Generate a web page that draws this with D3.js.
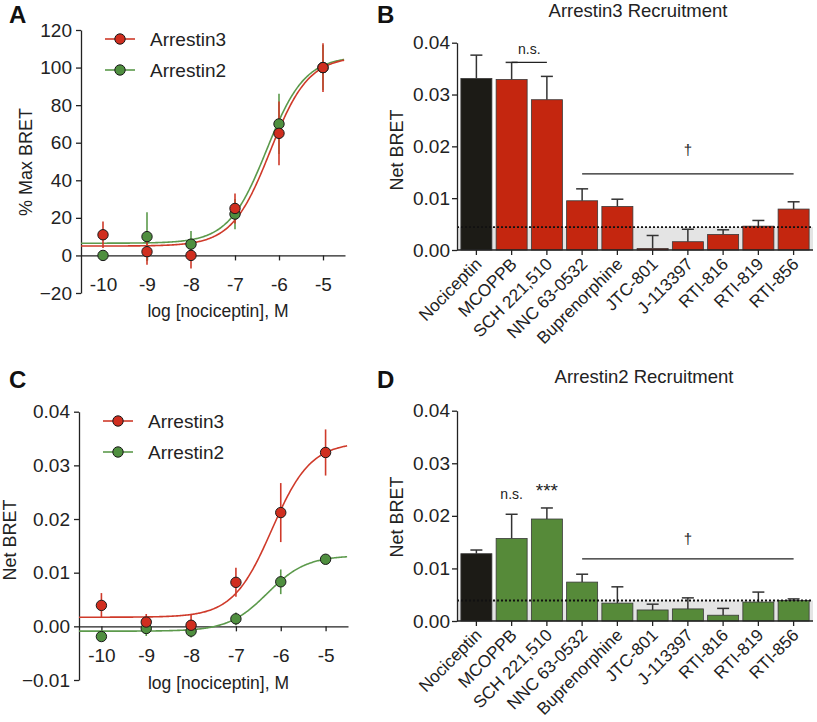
<!DOCTYPE html>
<html>
<head>
<meta charset="utf-8">
<script src="https://cdn.jsdelivr.net/npm/d3@7"></script>
<style>
  body { margin: 0; background: #fff; }
  svg { font-family: "Liberation Sans", Arial, sans-serif; }
</style>
</head>
<body>
<svg id="fig" width="817" height="722"></svg>
<script>
// dose axis (log M)
const logDose = [-10, -9, -8, -7, -6, -5];

// panel A - % max BRET
const aArr3 = [11, 2, 0, 25, 65, 100];
const aArr3Err = [7, 7, 7, 8, 17, 13];
const aArr2 = [0, 10, 6, 22, 70, 100];
const aArr2Err = [1, 13, 7, 8, 16, 12];
// fitted curve: bottom, top, logEC50
const aFit3 = [5, 106, -6.2];
const aFit2 = [6.5, 106, -6.28];

// panel C - net BRET
const cArr3 = [0.0039, 0.0008, 0.0002, 0.0082, 0.0212, 0.0324];
const cArr3Err = [0.0023, 0.0015, 0.002, 0.0027, 0.0055, 0.0043];
const cArr2 = [-0.0019, -0.0004, -0.0009, 0.0014, 0.0083, 0.0125];
const cArr2Err = [0.0005, 0.0014, 0.0012, 0.0012, 0.0023, 0.0006];
const cFit3 = [0.0017, 0.0343, -6.2];
const cFit2 = [-0.0009, 0.0132, -6.3];

// panels B and D - bars
const drugs = ["Nociceptin", "MCOPPB", "SCH 221,510", "NNC 63-0532", "Buprenorphine",
  "JTC-801", "J-113397", "RTI-816", "RTI-819", "RTI-856"];
const arr3Net = [0.0331, 0.0329, 0.0290, 0.0095, 0.0084, 0.0003, 0.0016, 0.0030, 0.0046, 0.0079];
const arr3Sem = [0.0045, 0.0033, 0.0045, 0.0023, 0.0014, 0.0025, 0.0024, 0.0009, 0.0011, 0.0014];
const arr3Basal = 0.0044;
const arr2Net = [0.0128, 0.0157, 0.0194, 0.0074, 0.0034, 0.0021, 0.0023, 0.0011, 0.0036, 0.0039];
const arr2Sem = [0.0007, 0.0046, 0.0021, 0.0015, 0.0031, 0.0011, 0.0021, 0.0013, 0.0019, 0.0003];
const arr2Basal = 0.0039;

const red = "#d02e1f", green = "#4f8f3f";
const redBar = "#c4260f", greenBar = "#568a39", blackBar = "#1c1b16";
const redLine = "#cf3a2a", greenLine = "#5c9a4c";
const axisCol = "#222";

const svg = d3.select("#fig");

function styleAxis(g, fs) {
  g.selectAll("path, line").attr("stroke", axisCol).attr("stroke-width", 1.3);
  g.selectAll("text").attr("fill", "#222").style("font-size", fs + "px")
    .style("font-family", '"Liberation Sans", Arial, sans-serif');
}

function hill(p, x) {
  return p[0] + (p[1] - p[0]) / (1 + Math.pow(10, p[2] - x));
}

// dose-response panel
function curvePanel(o) {
  const x = d3.scaleLinear().domain([-10.5, -4.5]).range(o.xr);
  const y = d3.scaleLinear().domain(o.yd).range(o.yr);
  const g = svg.append("g");

  const ya = g.append("g").attr("transform", `translate(${o.xr[0]},0)`)
    .call(d3.axisLeft(y).tickValues(o.yTicks).tickFormat(o.fmt).tickSize(5).tickPadding(4).tickSizeOuter(0));
  styleAxis(ya, 19);
  const xa = g.append("g").attr("transform", `translate(0,${y(0)})`)
    .call(d3.axisBottom(x).tickValues(logDose).tickFormat(d3.format("d")).tickSize(5).tickPadding(17).tickSizeOuter(0));
  styleAxis(xa, 19);
  xa.selectAll("text").text(d => "-" + Math.abs(d));

  g.append("text").attr("x", (o.xr[0] + o.xr[1]) / 2 + 5).attr("y", o.xTitleY)
    .attr("text-anchor", "middle").style("font-size", "17.5px").attr("fill", "#222")
    .text("log [nociceptin], M");
  g.append("text").attr("transform", `translate(${o.yTitle[0]},${o.yTitle[1]}) rotate(-90)`)
    .attr("text-anchor", "middle").style("font-size", "18px").attr("fill", "#222")
    .text(o.yLabel);

  const xs = d3.range(-10.5, -4.5001, 0.02);

  o.series.forEach(s => {
    g.append("path").datum(xs).attr("d", d3.line().x(d => x(d)).y(d => y(hill(s.fit, d))))
      .attr("fill", "none").attr("stroke", s.line).attr("stroke-width", 1.6);
  });
  o.series.forEach(s => {
    g.selectAll(null).data(logDose).enter().append("line")
      .attr("x1", d => x(d)).attr("x2", d => x(d))
      .attr("y1", (d, i) => y(s.vals[i] - s.errs[i])).attr("y2", (d, i) => y(s.vals[i] + s.errs[i]))
      .attr("stroke", s.line).attr("stroke-width", 1.6);
  });
  o.series.forEach(s => {
    g.selectAll(null).data(logDose).enter().append("circle")
      .attr("cx", d => x(d)).attr("cy", (d, i) => y(s.vals[i])).attr("r", 5.2)
      .attr("fill", s.color).attr("stroke", "#1a1a1a").attr("stroke-width", 1);
  });

  // legend
  o.legend.forEach((l, i) => {
    const s = l.s, ly = o.legendY + i * o.legendGap;
    g.append("line").attr("x1", o.legendX - 15).attr("x2", o.legendX + 15)
      .attr("y1", ly).attr("y2", ly).attr("stroke", s.line).attr("stroke-width", 1.6);
    g.append("circle").attr("cx", o.legendX).attr("cy", ly).attr("r", 5.2)
      .attr("fill", s.color).attr("stroke", "#1a1a1a").attr("stroke-width", 1);
    g.append("text").attr("x", o.legendX + 30).attr("y", ly + 7)
      .style("font-size", "19px").attr("fill", "#222").text(l.name);
  });
}

// bar panel
function barPanel(o) {
  const x = d3.scaleBand().domain(drugs).range([457, 813]).paddingInner(0.12).paddingOuter(0.11);
  const y = d3.scaleLinear().domain([0, 0.04]).range(o.yr);
  const g = svg.append("g");

  g.append("text").attr("x", o.titleX).attr("y", o.titleY).attr("text-anchor", "middle")
    .style("font-size", "18.5px").attr("fill", "#222").text(o.title);

  // basal band
  g.append("rect").attr("x", 457).attr("width", 813 - 457)
    .attr("y", y(o.basal)).attr("height", y(0) - y(o.basal)).attr("fill", "#e4e4e4");

  g.selectAll(null).data(drugs).enter().append("line")
    .attr("x1", d => x(d) + x.bandwidth() / 2).attr("x2", d => x(d) + x.bandwidth() / 2)
    .attr("y1", (d, i) => y(o.vals[i])).attr("y2", (d, i) => y(o.vals[i] + o.sem[i]))
    .attr("stroke", "#333").attr("stroke-width", 1.5);
  g.selectAll(null).data(drugs).enter().append("line")
    .attr("x1", d => x(d) + x.bandwidth() / 2 - 6).attr("x2", d => x(d) + x.bandwidth() / 2 + 6)
    .attr("y1", (d, i) => y(o.vals[i] + o.sem[i])).attr("y2", (d, i) => y(o.vals[i] + o.sem[i]))
    .attr("stroke", "#333").attr("stroke-width", 1.5);

  g.selectAll(null).data(drugs).enter().append("rect")
    .attr("x", d => x(d)).attr("width", x.bandwidth())
    .attr("y", (d, i) => y(o.vals[i])).attr("height", (d, i) => y(0) - y(o.vals[i]))
    .attr("fill", (d, i) => i === 0 ? blackBar : o.color)
    .attr("stroke", "#3a3a3a").attr("stroke-width", 0.8);

  // basal line (dotted)
  g.append("line").attr("x1", 457).attr("x2", 813).attr("y1", y(o.basal)).attr("y2", y(o.basal))
    .attr("stroke", "#111").attr("stroke-width", 1.8).attr("stroke-dasharray", "2,2");

  const ya = g.append("g").attr("transform", "translate(457,0)")
    .call(d3.axisLeft(y).tickValues([0, 0.01, 0.02, 0.03, 0.04]).tickFormat(d3.format(".2f"))
      .tickSize(5).tickPadding(2).tickSizeOuter(0));
  styleAxis(ya, 19);
  const xa = g.append("g").attr("transform", `translate(0,${y(0)})`)
    .call(d3.axisBottom(x).tickSize(5).tickSizeOuter(0));
  styleAxis(xa, 17.2);
  xa.select(".domain").attr("d", `M457,0H813`);
  xa.selectAll("text").attr("y", 0).attr("dy", "0.35em")
    .attr("text-anchor", "end")
    .attr("transform", "translate(2,11) rotate(-45)");

  g.append("text").attr("transform", `translate(${o.yTitle[0]},${o.yTitle[1]}) rotate(-90)`)
    .attr("text-anchor", "middle").style("font-size", "18px").attr("fill", "#222").text("Net BRET");

  // significance marks
  const cx = d => x(d) + x.bandwidth() / 2;
  const sig = o.sig;
  g.append("line").attr("x1", cx(drugs[3])).attr("x2", cx(drugs[9]))
    .attr("y1", y(sig.line)).attr("y2", y(sig.line)).attr("stroke", "#222").attr("stroke-width", 1.3);
  g.append("text").attr("x", (cx(drugs[3]) + cx(drugs[9])) / 2).attr("y", y(sig.dagger))
    .attr("text-anchor", "middle").style("font-size", "15px").attr("fill", "#222").text("\u2020");
  sig.marks.forEach(m => {
    const mx = m.span ? (cx(drugs[m.span[0]]) + cx(drugs[m.span[1]])) / 2 : cx(drugs[m.at]);
    g.append("text").attr("x", mx).attr("y", y(m.v)).attr("text-anchor", "middle")
      .style("font-size", m.size + "px").attr("fill", "#222").text(m.t);
    if (m.span) {
      g.append("line").attr("x1", cx(drugs[m.span[0]])).attr("x2", cx(drugs[m.span[1]]))
        .attr("y1", y(m.lineV)).attr("y2", y(m.lineV)).attr("stroke", "#222").attr("stroke-width", 1.3);
    }
  });
}

const a3 = { vals: aArr3, errs: aArr3Err, fit: aFit3, color: red, line: redLine };
const a2 = { vals: aArr2, errs: aArr2Err, fit: aFit2, color: green, line: greenLine };
curvePanel({
  xr: [81, 345], yd: [-20, 120], yr: [293, 30], yTicks: d3.range(-20, 121, 20), fmt: d3.format("d"),
  series: [a2, a3], yLabel: "% Max BRET", yTitle: [32, 162], xTitleY: 317,
  legend: [{ s: a3, name: "Arrestin3" }, { s: a2, name: "Arrestin2" }],
  legendX: 120, legendY: 39, legendGap: 31
});

const c3 = { vals: cArr3, errs: cArr3Err, fit: cFit3, color: red, line: redLine };
const c2 = { vals: cArr2, errs: cArr2Err, fit: cFit2, color: green, line: greenLine };
curvePanel({
  xr: [79, 348], yd: [-0.01, 0.04], yr: [680, 411.7], yTicks: [-0.01, 0, 0.01, 0.02, 0.03, 0.04],
  fmt: d3.format(".2f"),
  series: [c2, c3], yLabel: "Net BRET", yTitle: [16, 540], xTitleY: 689,
  legend: [{ s: c3, name: "Arrestin3" }, { s: c2, name: "Arrestin2" }],
  legendX: 118, legendY: 421, legendGap: 31
});

barPanel({
  yr: [250, 42.7], vals: arr3Net, sem: arr3Sem, basal: arr3Basal, color: redBar,
  title: "Arrestin3 Recruitment", titleX: 638, titleY: 17, yTitle: [403, 150],
  sig: { line: 0.0147, dagger: 0.0183,
    marks: [{ span: [1, 2], t: "n.s.", v: 0.0379, size: 14, lineV: 0.0382 - 0.0005 - 0.0015 }] }
});

barPanel({
  yr: [621, 410.7], vals: arr2Net, sem: arr2Sem, basal: arr2Basal, color: greenBar,
  title: "Arrestin2 Recruitment", titleX: 644, titleY: 383, yTitle: [403, 517],
  sig: { line: 0.0118, dagger: 0.0146,
    marks: [{ at: 1, t: "n.s.", v: 0.0233, size: 14 }, { at: 2, t: "***", v: 0.0235, size: 19 }] }
});

// panel letters
[["A", 9, 23], ["B", 377, 23], ["C", 9, 388], ["D", 377, 388]].forEach(p => {
  svg.append("text").attr("x", p[1]).attr("y", p[2]).style("font-size", "24px")
    .style("font-weight", "bold").attr("fill", "#111").text(p[0]);
});
</script>
</body>
</html>
